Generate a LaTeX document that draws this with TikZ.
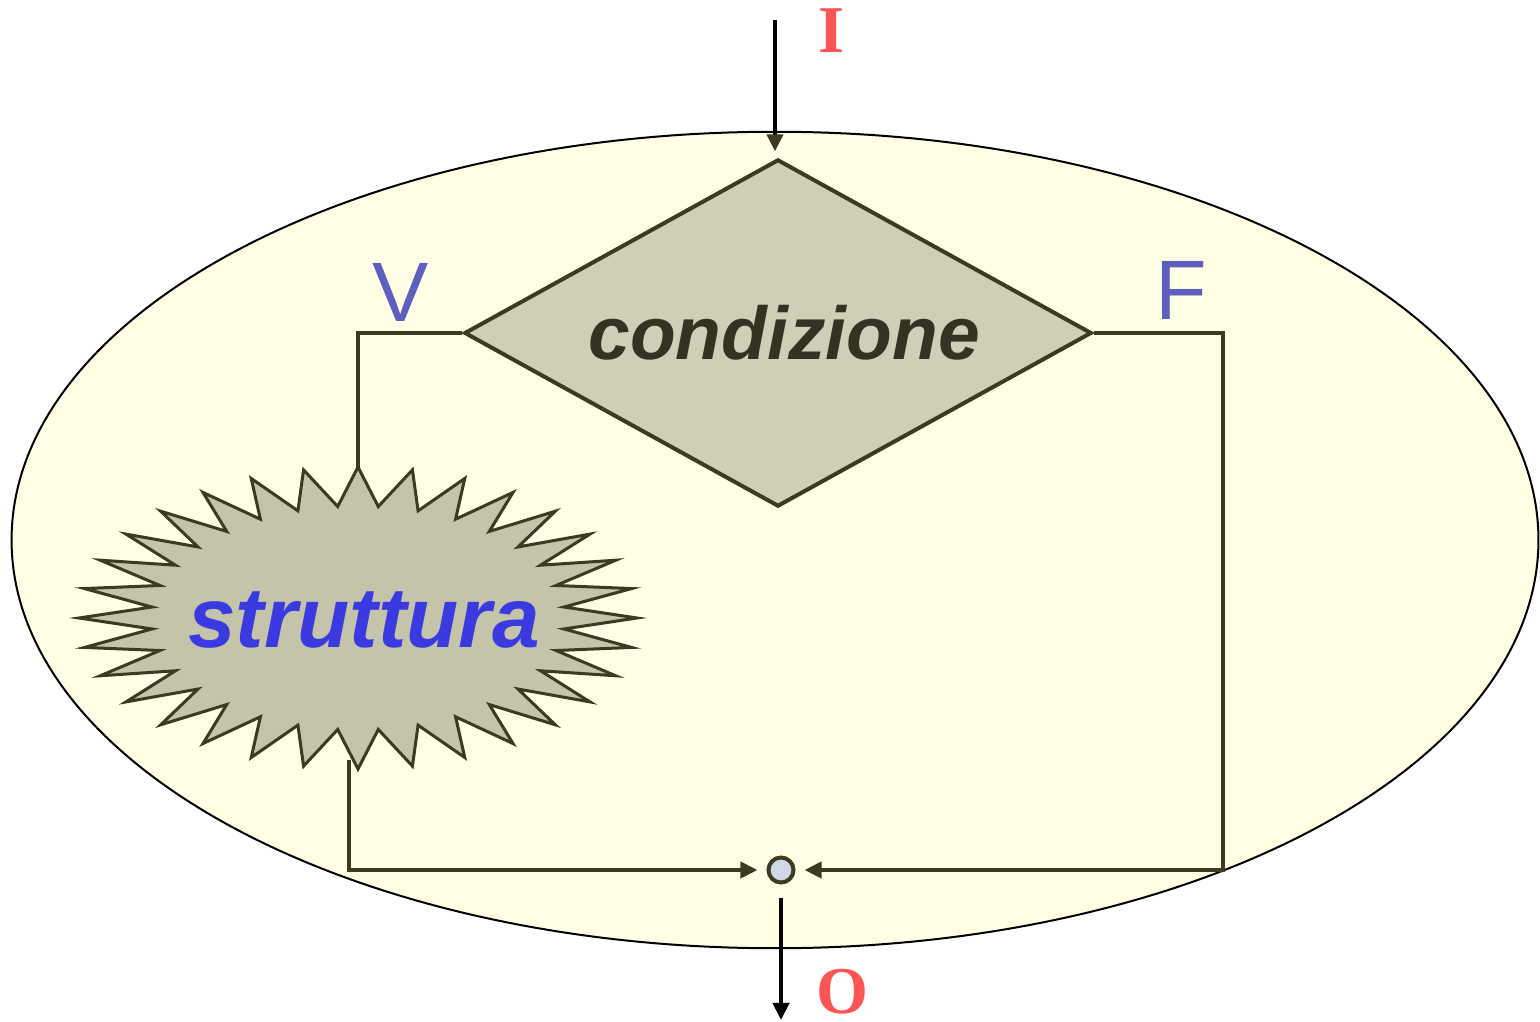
\documentclass[tikz,border=0pt]{standalone}
\usepackage{fontspec}
\setmainfont{Liberation Sans}
\newfontfamily\iofont{Liberation Serif}
\usetikzlibrary{arrows.meta,shapes.geometric}
\definecolor{olivedk}{HTML}{3C3B22}
\definecolor{ellfill}{HTML}{FFFFE6}
\definecolor{diamfill}{HTML}{CFCFB8}
\definecolor{burstfill}{HTML}{C4C4AA}
\definecolor{juncfill}{HTML}{D0D8E6}
\definecolor{condtxt}{HTML}{333322}
\definecolor{branchblue}{HTML}{5E5EBE}
\definecolor{strutblue}{HTML}{3A3AE0}
\definecolor{iored}{HTML}{FF5555}
\pgfdeclarelayer{back}
\pgfdeclarelayer{wires}
\pgfsetlayers{back,wires,main}

\begin{document}
\begin{tikzpicture}[x=0.01cm,y=-0.01cm,>={Triangle[length=0.17cm,width=0.16cm]},
  cond/.style={diamond,aspect=1.807,draw=olivedk,fill=diamfill,line width=0.04cm,minimum width=6.27cm,minimum height=3.47cm,inner sep=0pt,text=condtxt,font=\fontsize{21.3}{21.3}\selectfont\bfseries\itshape},
  burst/.style={draw=olivedk,fill=burstfill,line width=0.03cm},
  junction/.style={circle,draw=olivedk,fill=juncfill,line width=0.04cm,minimum size=0.25cm,inner sep=0pt},
  wire/.style={draw=olivedk,line width=0.04cm},
  branch/.style={text=branchblue,font=\fontsize{24}{24}\selectfont},
  io/.style={text=iored,inner sep=0pt,font=\iofont\fontsize{19}{19}\selectfont\bfseries}]
\useasboundingbox (0,0) rectangle (1540,1022);
\begin{pgfonlayer}{back}
\draw[line width=0.02cm,fill=ellfill] (775,540) ellipse [x radius=7.63cm,y radius=4.08cm];
\end{pgfonlayer}
% decision and its two branches
\node[cond] (cond) at (778,333) {\hspace*{0.12cm}condizione};
\draw[burst] ({358+279*cos(90)},{618-151*sin(90)})
  \foreach \i in {1,...,32} {
    -- ({358+207*cos(90+11.25*\i-5.625)},{618-112*sin(90+11.25*\i-5.625)})
    -- ({358+279*cos(90+11.25*\i)},{618-151*sin(90+11.25*\i)})
  } -- cycle;
\node[text=strutblue,font=\fontsize{24.3}{24.3}\selectfont\bfseries\itshape] (strut) at (364,620) {struttura};
\node[junction] (junc) at (781,870) {};
\coordinate (stop) at (358,467);
\coordinate (sbot) at (349,760);
\coordinate (fr) at (1223,870);
\coordinate (in) at (775,20);
\coordinate (out) at (779,1020);
\node[branch] (vlab) at (401,292) {V};
\node[branch] (flab) at (1181,290) {F};
\node[io] (ilab) at (831,31) {I};
\node[io] (olab) at (842,992) {O};
\begin{pgfonlayer}{wires}
\draw[wire] (cond.west) -| (stop);
\draw[wire,->,shorten >=0.09cm] (sbot) |- (junc);
\draw[wire,->,shorten >=0.09cm] (cond.east) -| (fr) -- (junc);
\draw[line width=0.04cm,-{Triangle[length=0.17cm,width=0.16cm,color=olivedk]},shorten >=0.06cm] (in) -- (in |- cond.north);
\draw[line width=0.04cm,->,shorten <=0.13cm] (junc) -- (junc |- out);
\end{pgfonlayer}
\end{tikzpicture}
\end{document}
